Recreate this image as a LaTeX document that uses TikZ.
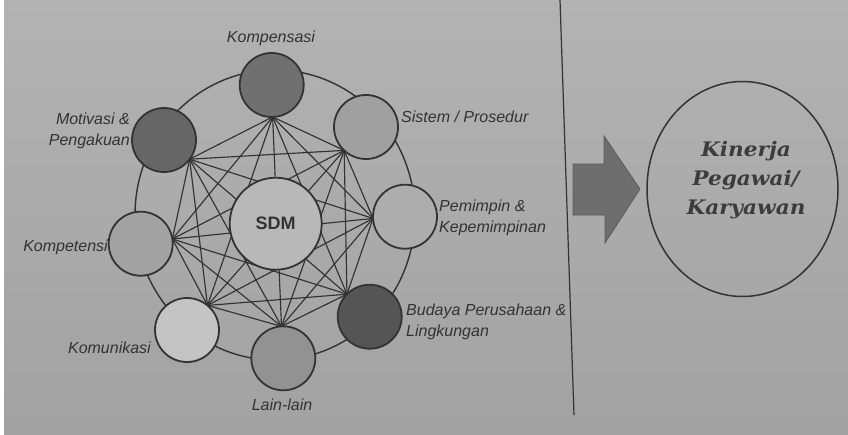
\documentclass[tikz,border=0pt]{standalone}
\usepackage{fontspec}
\newfontfamily\lblfont{Liberation Sans}
\newfontfamily\kinfont[FakeStretch=1.08]{DejaVu Serif}
\usetikzlibrary{calc}
\definecolor{papertop}{HTML}{B3B3B3}
\definecolor{paperbot}{HTML}{A2A2A2}
\definecolor{ink}{HTML}{333333}
\definecolor{kinink}{HTML}{3C3C3C}
\definecolor{fKomp}{HTML}{707070}
\definecolor{fMot}{HTML}{666666}
\definecolor{fBud}{HTML}{555555}
\definecolor{fSis}{HTML}{A0A0A0}
\definecolor{fPem}{HTML}{ADADAD}
\definecolor{fKet}{HTML}{A2A2A2}
\definecolor{fLain}{HTML}{929292}
\definecolor{fKom}{HTML}{C4C4C4}
\definecolor{fSdm}{HTML}{B8B8B8}
\definecolor{arrowfill}{HTML}{6E6E6E}
\tikzset{
  factor/.style={circle, draw=ink, line width=1.8pt, minimum size=64pt, inner sep=0pt},
  core/.style={circle, draw=ink, line width=1.8pt, fill=fSdm, minimum size=92pt, inner sep=0pt,
    font=\lblfont\bfseries\fontsize{18}{20}\selectfont, text=ink},
  lbl/.style={inner sep=0pt, text=ink, font=\lblfont\itshape\fontsize{16}{21}\selectfont},
  web/.style={draw=ink, line width=1.15pt},
  ring/.style={draw=ink, line width=1.4pt},
  divider/.style={draw=ink, line width=1.2pt},
  bigarrow/.style={fill=arrowfill, draw=ink!80, line width=0.8pt},
  result/.style={draw=ink, line width=1.5pt},
  resulttext/.style={inner sep=0pt, text=kinink, align=center,
    font=\kinfont\bfseries\itshape\fontsize{20}{29}\selectfont}
}
\begin{document}
\begin{tikzpicture}[x=1pt,y=-1pt]
  % paper
  \fill[white] (0,0) rectangle (848,434);
  \shade[top color=papertop, bottom color=paperbot] (4,0) rectangle (848,434);
  \useasboundingbox (0,0) rectangle (848,434);

  % outer ring
  \draw[ring] (275,215) ellipse [x radius=140, y radius=145];

  % centre position (the web aims at it)
  \coordinate (sdmc) at (275.7,223.7);

  % factor centres
  \coordinate (cKomp) at (271.7,85);
  \coordinate (cSis)  at (366,127);
  \coordinate (cPem)  at (405,216.7);
  \coordinate (cBud)  at (369.7,316.7);
  \coordinate (cLain) at (283.3,358.3);
  \coordinate (cKom)  at (187,330);
  \coordinate (cKet)  at (140.7,243.7);
  \coordinate (cMot)  at (164,140);

  % web vertices: inner point of each factor circle
  \foreach \n in {Komp,Sis,Pem,Bud,Lain,Kom,Ket,Mot}{
    \coordinate (v\n) at ($(c\n)!32pt!(sdmc)$);
  }

  % complete web between all factors
  \foreach \a/\rest in {Komp/{Sis,Pem,Bud,Lain,Kom,Ket,Mot},
                        Sis/{Pem,Bud,Lain,Kom,Ket,Mot},
                        Pem/{Bud,Lain,Kom,Ket,Mot},
                        Bud/{Lain,Kom,Ket,Mot},
                        Lain/{Kom,Ket,Mot},
                        Kom/{Ket,Mot},
                        Ket/{Mot}}{
    \foreach \b in \rest { \draw[web] (v\a) -- (v\b); }
  }

  % factor circles
  \node[factor, fill=fKomp] (komp) at (cKomp) {};
  \node[factor, fill=fSis]  (sis)  at (cSis)  {};
  \node[factor, fill=fPem]  (pem)  at (cPem)  {};
  \node[factor, fill=fBud]  (bud)  at (cBud)  {};
  \node[factor, fill=fLain] (lain) at (cLain) {};
  \node[factor, fill=fKom]  (kom)  at (cKom)  {};
  \node[factor, fill=fKet]  (ket)  at (cKet)  {};
  \node[factor, fill=fMot]  (mot)  at (cMot)  {};

  % centre
  \node[core] (sdm) at (sdmc) {SDM};

  % labels
  \node[lbl] (tKomp) at (271,38) {Kompensasi};
  \node[lbl, anchor=west] (tSis) at (401,117) {Sistem / Prosedur};
  \node[lbl, anchor=east, align=right] (tMot) at (130,131) {Motivasi \&\\Pengakuan};
  \node[lbl, anchor=east] (tKet) at (108,247) {Kompetensi};
  \node[lbl, anchor=east] (tKom) at (151,348) {Komunikasi};
  \node[lbl, anchor=west, align=left] (tPem) at (439,218) {Pemimpin \&\\Kepemimpinan};
  \node[lbl, anchor=west, align=left] (tBud) at (406,322) {Budaya Perusahaan \&\\Lingkungan};
  \node[lbl] (tLain) at (282,405) {Lain-lain};

  % divider
  \coordinate (divtop) at (560,0);
  \coordinate (divbot) at (574,415);
  \draw[divider] (divtop) -- (divbot);

  % block arrow
  \draw[bigarrow] (573,164) -- (604,164) -- (604,136) -- (640,189)
    -- (605,243) -- (605,215) -- (573,215) -- cycle;

  % result
  \draw[result] (742.5,189) ellipse [x radius=95.5, y radius=107.5];
  \node[resulttext] (kinerja) at (746,180) {Kinerja\\Pegawai/\\Karyawan};
\end{tikzpicture}
\end{document}
